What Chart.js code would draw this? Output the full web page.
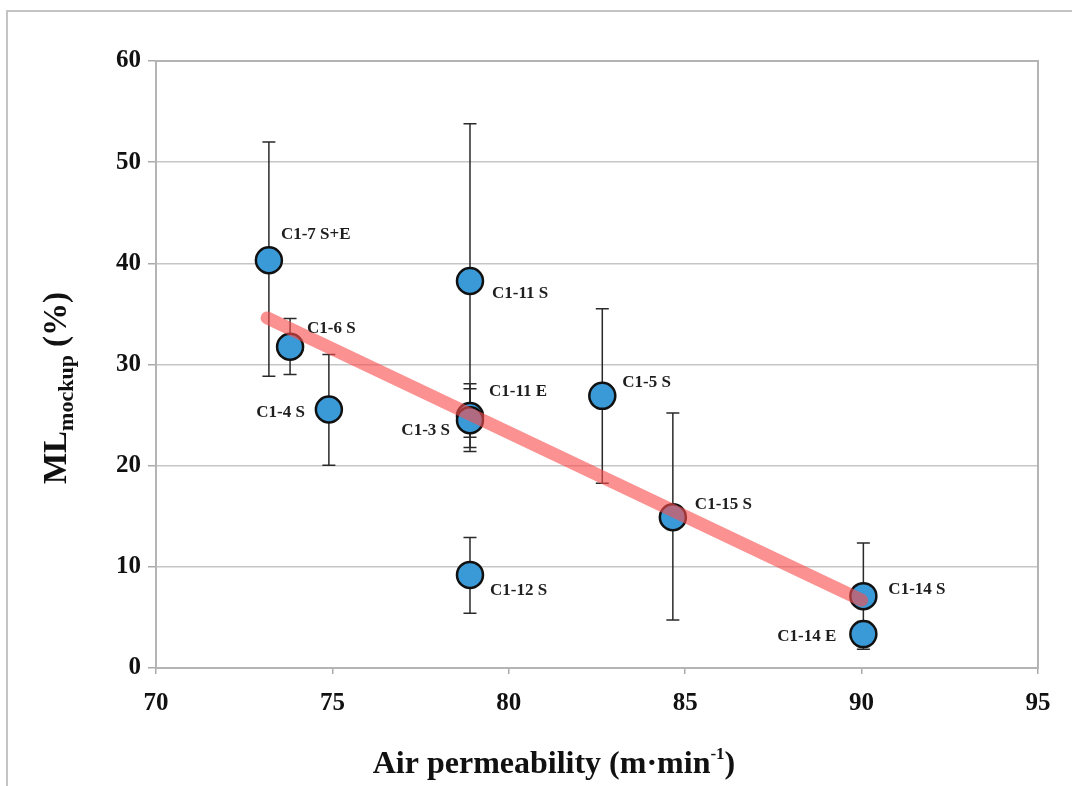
<!DOCTYPE html>
<html>
<head>
<meta charset="utf-8">
<script src="https://cdn.jsdelivr.net/npm/chart.js@4/dist/chart.umd.min.js"></script>
<style>
  html, body { margin: 0; padding: 0; background: #fff; overflow: hidden; }
  #wrap { position: relative; width: 1072px; height: 786px; }
  #frame { position: absolute; left: 6px; top: 10px; right: 0; bottom: 0;
           border-left: 2px solid #c4c4c4; border-top: 2px solid #c4c4c4; }
  canvas { position: absolute; left: 0; top: 0; }
</style>
</head>
<body>
<div id="wrap">
  <div id="frame"></div>
  <canvas id="chart" width="1072" height="786"></canvas>
</div>
<script>
// samples, air permeability (m/min) vs ML mockup (%)
const names = ["C1-7 S+E", "C1-6 S", "C1-4 S", "C1-11 S", "C1-11 E", "C1-3 S",
               "C1-12 S", "C1-5 S", "C1-15 S", "C1-14 S", "C1-14 E"];
const permeability = [73.2, 73.8, 74.9, 78.9, 78.9, 78.9, 78.9, 82.65, 84.65, 90.05, 90.05];
const mlMockup = [40.3, 31.75, 25.55, 38.25, 24.9, 24.5, 9.2, 26.9, 14.9, 7.1, 3.35];
const errUpper = [52.0, 34.55, 31.0, 53.8, 28.1, 27.6, 12.9, 35.5, 25.2, 12.35, 4.6];
const errLower = [28.85, 29.0, 20.05, 22.8, 21.8, 21.4, 5.4, 18.25, 4.75, 1.85, 2.15];

// fitted trend line end points
const trendX = [73.15, 90.0];
const trendY = [34.6, 6.7];

const xTicks = [70, 75, 80, 85, 90, 95];
const yTicks = [0, 10, 20, 30, 40, 50, 60];

// label placement next to each marker: [dx, dy, align]
const labelPos = [
  [12, -26, "left"], [17, -18, "left"], [-24, 3, "right"], [22, 13, "left"],
  [19, -24, "left"], [-20, 10, "right"], [20, 16, "left"], [20, -13, "left"],
  [22, -13, "left"], [25, -7, "left"], [-27, 3, "right"]
];

const serif = "'Liberation Serif', 'Times New Roman', serif";

const plotBox = {
  id: "plotBox",
  beforeDatasetsDraw(chart) {
    const { ctx, chartArea: a } = chart;
    ctx.save();
    ctx.strokeStyle = "#b4b4b4";
    ctx.lineWidth = 2;
    ctx.strokeRect(a.left, a.top, a.right - a.left, a.bottom - a.top);
    ctx.restore();
  }
};

const errorBars = {
  id: "errorBars",
  beforeDatasetsDraw(chart) {
    const { ctx, scales: { x, y } } = chart;
    ctx.save();
    ctx.strokeStyle = "#2a2a2a";
    ctx.lineWidth = 1.5;
    permeability.forEach((v, i) => {
      const px = x.getPixelForValue(v);
      const top = y.getPixelForValue(errUpper[i]);
      const bot = y.getPixelForValue(errLower[i]);
      ctx.beginPath();
      ctx.moveTo(px, top); ctx.lineTo(px, bot);
      ctx.moveTo(px - 6.5, top); ctx.lineTo(px + 6.5, top);
      ctx.moveTo(px - 6.5, bot); ctx.lineTo(px + 6.5, bot);
      ctx.stroke();
    });
    ctx.restore();
  }
};

const pointLabels = {
  id: "pointLabels",
  afterDatasetsDraw(chart) {
    const { ctx, scales: { x, y } } = chart;
    ctx.save();
    ctx.font = "bold 17px " + serif;
    ctx.fillStyle = "#1e1e1e";
    ctx.textBaseline = "middle";
    names.forEach((n, i) => {
      const [dx, dy, align] = labelPos[i];
      ctx.textAlign = align;
      ctx.fillText(n, x.getPixelForValue(permeability[i]) + dx, y.getPixelForValue(mlMockup[i]) + dy);
    });
    ctx.restore();
  }
};

const axisTitles = {
  id: "axisTitles",
  afterDraw(chart) {
    const ctx = chart.ctx;
    ctx.save();
    ctx.fillStyle = "#111";
    ctx.textBaseline = "alphabetic";

    // x title with superscript
    const big = "bold 32px " + serif, small = "bold 17px " + serif;
    ctx.font = big;
    const a = "Air permeability (m\u00b7min";
    const wa = ctx.measureText(a).width;
    ctx.font = small;
    const wb = ctx.measureText("-1").width;
    ctx.font = big;
    const wc = ctx.measureText(")").width;
    const sx = 554 - (wa + wb + wc) / 2;
    const base = 773;
    ctx.textAlign = "left";
    ctx.fillText(a, sx, base);
    ctx.font = small;
    ctx.fillText("-1", sx + wa, base - 14);
    ctx.font = big;
    ctx.fillText(")", sx + wa + wb, base);

    // y title, rotated, with subscript
    ctx.translate(66, 388);
    ctx.rotate(-Math.PI / 2);
    const p1 = "ML", p2 = "mockup", p3 = " (%)";
    const f1 = "bold 33px " + serif, f2 = "bold 22px " + serif;
    ctx.font = f1; const w1 = ctx.measureText(p1).width, w3 = ctx.measureText(p3).width;
    ctx.font = f2; const w2 = ctx.measureText(p2).width;
    const tx = -(w1 + w2 + w3) / 2;
    ctx.font = f1; ctx.fillText(p1, tx, 0);
    ctx.font = f2; ctx.fillText(p2, tx + w1, 7);
    ctx.font = f1; ctx.fillText(p3, tx + w1 + w2, 0);
    ctx.restore();
  }
};

new Chart(document.getElementById("chart"), {
  type: "scatter",
  data: {
    datasets: [
      {
        label: "trend",
        type: "line",
        data: trendX.map((v, i) => ({ x: v, y: trendY[i] })),
        borderColor: "rgba(248, 78, 78, 0.62)",
        borderWidth: 13,
        borderCapStyle: "round",
        pointRadius: 0,
        fill: false,
        order: 0
      },
      {
        label: "ML mockup",
        data: permeability.map((v, i) => ({ x: v, y: mlMockup[i] })),
        backgroundColor: "#3a9ad8",
        borderColor: "#111",
        borderWidth: 2.5,
        pointRadius: 13,
        pointHoverRadius: 13,
        order: 1
      }
    ]
  },
  options: {
    responsive: false,
    animation: false,
    devicePixelRatio: 1,
    layout: { padding: { top: 61, right: 34, left: 0, bottom: 0 } },
    plugins: { legend: { display: false }, tooltip: { enabled: false } },
    scales: {
      x: {
        type: "linear", min: 70, max: 95,
        afterBuildTicks: s => { s.ticks = xTicks.map(v => ({ value: v })); },
        afterFit: s => { s.height = 118; },
        grid: { drawOnChartArea: false, tickLength: 6, color: "#aaa", lineWidth: 1.5 },
        border: { display: true, color: "#aaa", width: 1.5 },
        ticks: { padding: 15, color: "#111", font: { family: serif, weight: "bold", size: 25 } }
      },
      y: {
        type: "linear", min: 0, max: 60,
        afterBuildTicks: s => { s.ticks = yTicks.map(v => ({ value: v })); },
        afterFit: s => { s.width = 156; },
        grid: { color: "#c6c6c6", lineWidth: 1.5, tickLength: 8, tickColor: "#aaa" },
        border: { display: true, color: "#aaa", width: 1.5 },
        ticks: { padding: 7, color: "#111", font: { family: serif, weight: "bold", size: 25 } }
      }
    }
  },
  plugins: [plotBox, errorBars, pointLabels, axisTitles]
});
</script>
</body>
</html>
